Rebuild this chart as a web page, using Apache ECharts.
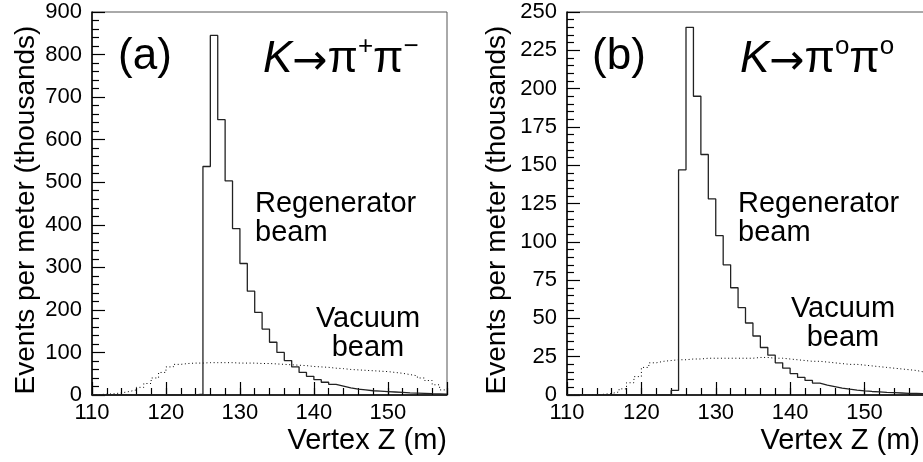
<!DOCTYPE html>
<html>
<head>
<meta charset="utf-8">
<script src="https://cdn.jsdelivr.net/npm/echarts@6/dist/echarts.min.js"></script>
<style>html,body{margin:0;padding:0;background:#fff}#c{width:923px;height:462px}</style>
</head>
<body>
<div id="c"></div>
<script>
// lower edge of the first 1-m bin; bins are 1 m wide (110..158)
const zBinStart = 110;
const xMin = 110, xMax = 158;
const xLabels = [110, 120, 130, 140, 150];

// Panel (a): K -> pi+ pi-  (thousands of events per meter)
const regenA = [0,0,0,0,0,0,0,0,0,0, 0,0,0,0,2,537,845,647,503,391,
  309,244,194,155,124,100,81,66,53,44, 36,30,25,21,17,14,12,10,9,8,
  7,6,5,4.5,4,3,2.5,2];
const vacuumA = [1,2,3,5,8,12,18,27,40,53, 66,72,74,75,75,76,76,76,76,75,
  75,75,74,74,73,72,71,70,69,67, 66,65,63,62,60,59,58,57,56,55,
  53,51,48,45,40,34,24,12];

// Panel (b): K -> pi0 pi0
const regenB = [0,0,0,0,0,0,0,0,0,0, 0,0,0,0,3,147,240,195,157,128,
  104,85,70,57,47,38.5,31,26,21,17.5, 14,11.5,9.5,7.8,6.5,5.5,4.5,3.8,3.2,2.7,
  2.3,2,1.7,1.5,1.3,1.1,1,0.9];
const vacuumB = [0,0,0,0,0.5,1,2,4,8,12, 18,21,22,22.5,23,23,23.5,23.5,24,24,
  24,24,24,24,24,24.5,24.5,24,24,23.5, 23,22.5,22,22,21.5,21,20.5,20,20,19.5,
  19,18.5,18,17.5,17,16.5,16,15];

const yA = {max: 900, step: 100};
const yB = {max: 250, step: 25};

const FONT = 'Liberation Sans, Arial, Helvetica, sans-serif';

function hist(vals) {
  const d = vals.map((v, i) => [zBinStart + i, v]);
  d.push([zBinStart + vals.length, vals[vals.length - 1]]);
  return d;
}

function xAxes(g) {
  return [{
    gridIndex: g, type: 'value', min: xMin, max: xMax, interval: 10, position: 'bottom',
    axisLine: {lineStyle: {color: '#000', width: 1.5}},
    axisTick: {inside: true, length: 13, lineStyle: {color: '#000', width: 1.2}},
    axisLabel: {color: '#000', fontSize: 22, fontFamily: FONT, margin: 7,
      formatter: v => (xLabels.indexOf(v) >= 0 ? String(v) : '')},
    splitLine: {show: false},
    name: 'Vertex Z (m)', nameLocation: 'end', nameGap: g === 1 ? -4 : 0,
    nameMoveOverlap: false,
    nameTextStyle: {color: '#000', fontSize: 29, fontFamily: FONT, align: 'right',
      verticalAlign: 'top', padding: [31, 0, 0, 0]}
  }, {
    gridIndex: g, type: 'value', min: xMin, max: xMax, interval: 2, position: 'bottom',
    axisLine: {show: false},
    axisTick: {inside: true, length: 7, lineStyle: {color: '#000', width: 1.2}},
    axisLabel: {show: false}, splitLine: {show: false}
  }];
}

function yAxis(g, cfg, gap) {
  return {
    gridIndex: g, type: 'value', min: 0, max: cfg.max, interval: cfg.step,
    axisLine: {show: true, lineStyle: {color: '#000', width: 1.5}},
    axisTick: {show: true, inside: true, length: 13, lineStyle: {color: '#000', width: 1.2}},
    minorTick: {show: true, splitNumber: 5, length: 7, lineStyle: {color: '#000', width: 1.2}},
    axisLabel: {color: '#000', fontSize: 22, fontFamily: FONT, margin: 10},
    splitLine: {show: false}, minorSplitLine: {show: false},
    name: 'Events per meter (thousands)', nameLocation: 'middle', nameGap: gap,
    nameMoveOverlap: false,
    nameTextStyle: {color: '#000', fontSize: 28, fontFamily: FONT, padding: [0, 13, 0, 0]}
  };
}

function regenSeries(xi, yi, vals) {
  return {type: 'line', xAxisIndex: xi, yAxisIndex: yi, data: hist(vals), step: 'end',
    symbol: 'none', lineStyle: {color: '#222', width: 1.3}, animation: false, z: 3};
}
function vacSeries(xi, yi, vals) {
  return {type: 'line', xAxisIndex: xi, yAxisIndex: yi, data: hist(vals), step: 'end',
    symbol: 'none', lineStyle: {color: '#000', width: 1, type: [1, 2.6]}, animation: false, z: 2};
}

function sup2(s) { return s === '+' ? '−' : s; }
function decayText(x, sup) {
  return {
    type: 'text', left: x, top: 34, z: 10,
    style: {
      text: '{k|K}{a|→}{p|π}{s|' + sup + '}{p|π}{s|' + sup2(sup) + '}',
      rich: {
        k: {fontSize: 44, fontStyle: 'italic', fontFamily: FONT, lineHeight: 52, fill: '#000'},
        a: {fontSize: 42, fontFamily: 'DejaVu Sans, ' + FONT, lineHeight: 52, fill: '#000', padding: [6, 0, 0, 0]},
        p: {fontSize: 44, fontFamily: FONT, lineHeight: 52, fill: '#000'},
        s: {fontSize: 26, fontFamily: FONT, lineHeight: 26, verticalAlign: 'top', fill: '#000'}
      }
    }
  };
}

function plainText(x, y, txt, align, size) {
  return {type: 'text', x: x, y: y, z: 10,
    style: {text: txt, fontSize: size, fontFamily: FONT, fill: '#000', align: align,
      verticalAlign: 'top', lineHeight: 29}};
}

const gridBase = {top: 12, height: 383, show: true, borderColor: '#555', borderWidth: 1,
  backgroundColor: 'transparent', containLabel: false, outerBoundsMode: 'none'};

const chart = echarts.init(document.getElementById('c'), null, {renderer: 'canvas'});
chart.setOption({
  backgroundColor: '#fff',
  animation: false,
  grid: [
    Object.assign({left: 92, width: 355}, gridBase),
    Object.assign({left: 567, width: 357}, gridBase)
  ],
  xAxis: [...xAxes(0), ...xAxes(1)],
  yAxis: [yAxis(0, yA, 52), yAxis(1, yB, 56)],
  series: [
    regenSeries(0, 0, regenA), vacSeries(0, 0, vacuumA),
    regenSeries(2, 1, regenB), vacSeries(2, 1, vacuumB)
  ],
  graphic: [
    {type: 'text', x: 145, y: 57, z: 10, style: {text: '(a)', fontSize: 44, fontFamily: FONT, fill: '#000', align: 'center', verticalAlign: 'middle'}},
    {type: 'text', x: 619, y: 57, z: 10, style: {text: '(b)', fontSize: 44, fontFamily: FONT, fill: '#000', align: 'center', verticalAlign: 'middle'}},
    decayText(263, '+'),
    decayText(740, 'o'),
    plainText(255, 189, 'Regenerator\nbeam', 'left', 29),
    plainText(368, 304, 'Vacuum\nbeam', 'center', 29),
    plainText(738, 189, 'Regenerator\nbeam', 'left', 29),
    plainText(843, 294, 'Vacuum\nbeam', 'center', 29)
  ]
});
</script>
</body>
</html>
